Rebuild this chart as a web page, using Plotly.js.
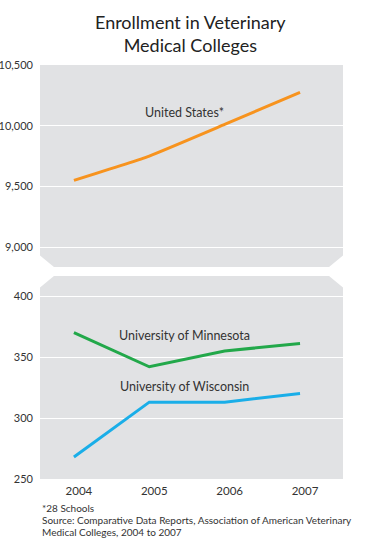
<!DOCTYPE html>
<html>
<head>
<meta charset="utf-8">
<script src="https://cdn.plot.ly/plotly-3.0.1.min.js"></script>
<style>
html,body{margin:0;padding:0;background:#fff;}
#chart{width:375px;height:550px;}
</style>
</head>
<body>
<div id="chart"></div>
<script>
// ---- data ----
const years = [2004, 2005, 2006, 2007];
const unitedStates = [9550, 9750, 10010, 10275];
const minnesota = [370, 342, 355, 361];
const wisconsin = [268, 313, 313, 320];
const upperTicks = [9000, 9500, 10000, 10500];
const lowerTicks = [250, 300, 350, 400];
const yearLabels = ['2004', '2005', '2006', '2007'];

const FONT = 'Lato, "Noto Sans", sans-serif';
const GREY = '#e1e2e4';

const traces = [
  {x: years, y: unitedStates, xaxis: 'x', yaxis: 'y', mode: 'lines',
   line: {color: '#f7931e', width: 3, shape: 'spline', smoothing: 0.4}},
  {x: years, y: minnesota, xaxis: 'x', yaxis: 'y2', mode: 'lines',
   line: {color: '#22a84a', width: 3}},
  {x: years, y: wisconsin, xaxis: 'x', yaxis: 'y2', mode: 'lines',
   line: {color: '#1aaee8', width: 3}}
];

const upBot = 0.5121, loTop = 0.4903, cx = 0.046, cy = 0.028;

const layout = {
  width: 375, height: 550,
  margin: {l: 40, r: 32, t: 65, b: 71},
  paper_bgcolor: '#ffffff',
  plot_bgcolor: 'rgba(0,0,0,0)',
  showlegend: false,
  font: {family: FONT, color: '#333333', size: 11},
  xaxis: {
    range: [2003.55, 2007.57], anchor: 'y2',
    tickvals: years, ticktext: yearLabels,
    showgrid: false, zeroline: false, showline: false, ticks: '',
    ticklabelshift: 5, ticklabelstandoff: 3,
    tickfont: {size: 11.5, color: '#333333', family: FONT}
  },
  yaxis: {
    domain: [upBot, 1], range: [8836, 10500], anchor: 'x',
    tickvals: upperTicks, tickformat: ',d',
    showgrid: true, gridcolor: '#ffffff', gridwidth: 1,
    zeroline: false, showline: false, ticks: '', ticklabelstandoff: 6,
    tickfont: {size: 11, color: '#333333', family: FONT}
  },
  yaxis2: {
    domain: [0, loTop], range: [250, 416.4], anchor: 'x',
    tickvals: lowerTicks,
    showgrid: true, gridcolor: '#ffffff', gridwidth: 1,
    zeroline: false, showline: false, ticks: '', ticklabelstandoff: 6,
    tickfont: {size: 11, color: '#333333', family: FONT}
  },
  shapes: [
    {type: 'path', xref: 'paper', yref: 'paper', layer: 'below',
     fillcolor: GREY, line: {width: 0},
     path: `M 0 1 L 1 1 L 1 ${upBot + cy} L ${1 - cx} ${upBot} L ${cx} ${upBot} L 0 ${upBot + cy} Z`},
    {type: 'path', xref: 'paper', yref: 'paper', layer: 'below',
     fillcolor: GREY, line: {width: 0},
     path: `M 0 0 L 1 0 L 1 ${loTop - cy} L ${1 - cx} ${loTop} L ${cx} ${loTop} L 0 ${loTop - cy} Z`}
  ],
  annotations: [
    {text: 'Enrollment in Veterinary<br>Medical Colleges', xref: 'paper', yref: 'paper',
     x: (190 - 40) / 303, y: (479 - 34) / 414, xanchor: 'center', yanchor: 'middle',
     showarrow: false, align: 'center',
     font: {size: 18, color: '#222222', family: FONT}},
    {text: 'United States*', xref: 'x', yref: 'y', x: 2005.47, y: 10107,
     showarrow: false, font: {size: 12.5, color: '#333333', family: FONT}},
    {text: 'University of Minnesota', xref: 'x', yref: 'y2', x: 2005.47, y: 368,
     showarrow: false, font: {size: 12.5, color: '#333333', family: FONT}},
    {text: 'University of Wisconsin', xref: 'x', yref: 'y2', x: 2005.47, y: 326,
     showarrow: false, font: {size: 12.5, color: '#333333', family: FONT}},
    {text: '*28 Schools', xref: 'paper', yref: 'paper', x: 0, y: (479 - 508) / 414,
     xanchor: 'left', yanchor: 'middle', showarrow: false, align: 'left',
     font: {size: 10, color: '#333333', family: FONT}},
    {text: 'Source: Comparative Data Reports, Association of American Veterinary', xref: 'paper', yref: 'paper', x: 0, y: (479 - 520) / 414,
     xanchor: 'left', yanchor: 'middle', showarrow: false, align: 'left',
     font: {size: 10, color: '#333333', family: FONT}},
    {text: 'Medical Colleges, 2004 to 2007', xref: 'paper', yref: 'paper', x: 0, y: (479 - 532) / 414,
     xanchor: 'left', yanchor: 'middle', showarrow: false, align: 'left',
     font: {size: 10, color: '#333333', family: FONT}}
  ]
};

Plotly.newPlot('chart', traces, layout, {displayModeBar: false, staticPlot: true});
</script>
</body>
</html>
